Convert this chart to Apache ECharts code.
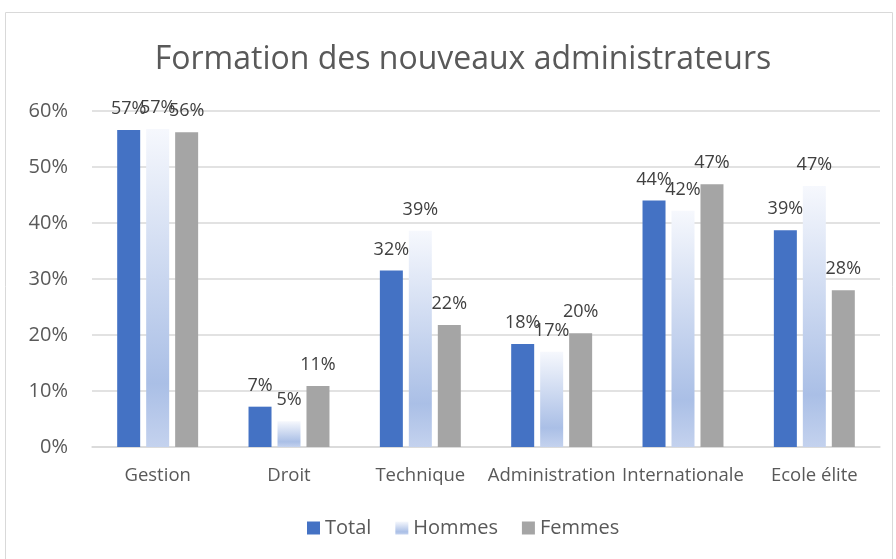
<!DOCTYPE html>
<html lang="fr">
<head>
    <meta charset="UTF-8">
    <title>Formation des nouveaux administrateurs</title>
    <script src="https://cdn.jsdelivr.net/npm/echarts@6/dist/echarts.min.js"></script>
    <style>
        html, body { margin: 0; padding: 0; background: #fff; }
    </style>
</head>
<body>
<div id="chart" style="width:896px;height:559px;"></div>
<script>
    var categories = ['Gestion', 'Droit', 'Technique', 'Administration', 'Internationale', 'Ecole élite'];
    var total = [56.6, 7.2, 31.5, 18.4, 44.0, 38.7];
    var hommes = [56.8, 4.6, 38.6, 17.0, 42.2, 46.6];
    var femmes = [56.2, 10.9, 21.8, 20.3, 46.9, 28.0];
    var yTicks = [0, 10, 20, 30, 40, 50, 60];

    var font = '"Open Sans", "Noto Sans", sans-serif';
    var hommesFill = new echarts.graphic.LinearGradient(0, 0, 0, 1, [
        {offset: 0, color: '#F6F8FD'},
        {offset: 0.8, color: '#AABFE6'},
        {offset: 1, color: '#C4D2EE'}
    ]);

    var label = {
        show: true,
        position: 'top',
        distance: 12,
        color: '#404040',
        fontSize: 18,
        fontFamily: font,
        formatter: function (p) { return Math.round(p.value) + '%'; }
    };

    var myChart = echarts.init(document.getElementById('chart'));
    var option = {
        animation: false,
        textStyle: {fontFamily: font},
        title: {
            text: 'Formation des nouveaux administrateurs',
            left: 458,
            textAlign: 'center',
            top: 39,
            textStyle: {fontSize: 32, fontWeight: 'normal', color: '#595959', fontFamily: font}
        },
        graphic: [{
            type: 'rect',
            shape: {x: 5.5, y: 12.5, width: 887, height: 560},
            style: {fill: 'none', stroke: '#D9D9D9', lineWidth: 1},
            silent: true
        }],
        legend: {
            data: ['Total', 'Hommes', 'Femmes'],
            left: 302,
            top: 513,
            itemWidth: 13,
            itemHeight: 13,
            itemGap: 24,
            icon: 'rect',
            textStyle: {fontSize: 20, color: '#595959', fontFamily: font}
        },
        grid: {left: 92, right: 16, top: 111, bottom: 112, containLabel: false},
        xAxis: {
            type: 'category',
            data: categories,
            axisLine: {lineStyle: {color: '#D9D9D9', width: 1.5}},
            axisTick: {show: false},
            axisLabel: {color: '#595959', fontSize: 18.5, margin: 19, interval: 0, fontFamily: font}
        },
        yAxis: {
            type: 'value',
            min: yTicks[0],
            max: yTicks[yTicks.length - 1],
            interval: 10,
            axisLine: {show: false},
            axisTick: {show: false},
            axisLabel: {
                color: '#595959', fontSize: 20, margin: 24, fontFamily: font,
                formatter: function (v) { return yTicks.indexOf(v) >= 0 ? v + '%' : ''; }
            },
            splitLine: {lineStyle: {color: '#D9D9D9', width: 1.5}}
        },
        series: [
            {
                name: 'Total', type: 'bar', data: total,
                barWidth: 23, barGap: '26%',
                itemStyle: {color: '#4472C4'},
                label: label
            },
            {
                name: 'Hommes', type: 'bar', data: hommes,
                barWidth: 23,
                itemStyle: {color: hommesFill},
                label: label
            },
            {
                name: 'Femmes', type: 'bar', data: femmes,
                barWidth: 23,
                itemStyle: {color: '#A5A5A5'},
                label: label
            }
        ]
    };
    myChart.setOption(option);
</script>
</body>
</html>
